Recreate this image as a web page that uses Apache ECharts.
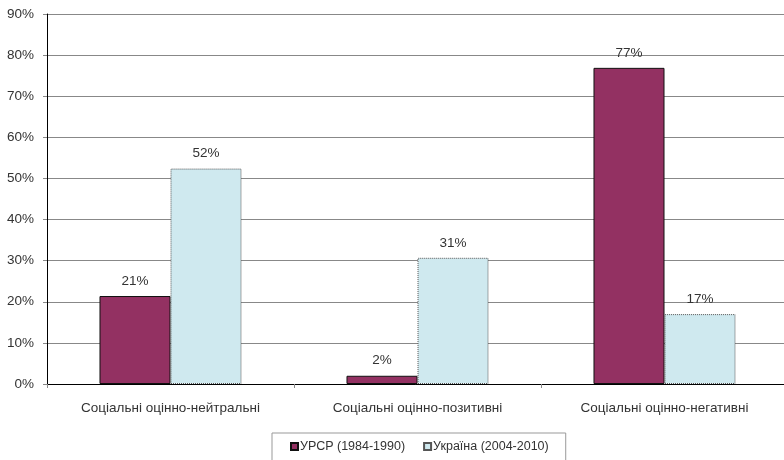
<!DOCTYPE html>
<html>
<head>
<meta charset="utf-8">
<script src="https://cdn.jsdelivr.net/npm/echarts@6/dist/echarts.min.js"></script>
<style>
  html, body { margin: 0; padding: 0; background: #fff; }
  #chart { width: 784px; height: 460px; }
</style>
</head>
<body>
<div id="chart"></div>
<script>
const categories = ['Соціальні оцінно-нейтральні', 'Соціальні оцінно-позитивні', 'Соціальні оцінно-негативні']
const seriesNames = ['УРСР (1984-1990)', 'Україна (2004-2010)']
const ursr = [21.4, 2.0, 76.9]
const ukraine = [52.4, 30.7, 17.0]
const yTicks = { min: 0, max: 90, interval: 10 }

const font = 'Liberation Sans, Arial, sans-serif'
const labelStyle = {
  show: true,
  position: 'top',
  distance: 8,
  color: '#333',
  fontSize: 13.5,
  fontFamily: font,
  formatter: p => Math.round(p.value) + '%'
}

const chart = echarts.init(document.getElementById('chart'))
chart.setOption({
  animation: false,
  grid: { left: 47, top: 14, width: 741, height: 370, outerBoundsMode: 'none', containLabel: false },
  legend: {
    left: 272,
    top: 433,
    padding: [7, 17, 8, 18],
    itemGap: 18,
    itemWidth: 7,
    itemHeight: 7,
    icon: 'rect',
    borderColor: '#999',
    borderWidth: 1,
    borderRadius: 0,
    backgroundColor: '#fff',
    textStyle: { color: '#333', fontSize: 12.5, fontFamily: font, padding: [0, 0, 0, -3] }
  },
  xAxis: {
    type: 'category',
    data: categories,
    axisLine: { lineStyle: { color: '#000', width: 1 } },
    axisTick: { show: true, length: 4, lineStyle: { color: '#888' } },
    axisLabel: { color: '#333', fontSize: 13.5, fontFamily: font, margin: 17 }
  },
  yAxis: {
    type: 'value',
    min: yTicks.min,
    max: yTicks.max,
    interval: yTicks.interval,
    axisLine: { show: true, lineStyle: { color: '#000', width: 1 } },
    axisTick: { show: true, length: 4, lineStyle: { color: '#888' } },
    axisLabel: { color: '#333', fontSize: 13.5, fontFamily: font, margin: 13, formatter: '{value}%' },
    splitLine: { lineStyle: { color: '#888', width: 1 } }
  },
  series: [
    {
      name: seriesNames[0],
      type: 'bar',
      data: ursr,
      barGap: '0%',
      barCategoryGap: '42.5%',
      itemStyle: { color: '#933162', borderColor: '#111', borderWidth: 1 },
      label: labelStyle
    },
    {
      name: seriesNames[1],
      type: 'bar',
      data: ukraine,
      itemStyle: { color: '#cfe9ef', borderColor: '#555', borderWidth: 1, borderType: 'dotted' },
      label: labelStyle
    }
  ]
})
</script>
</body>
</html>
